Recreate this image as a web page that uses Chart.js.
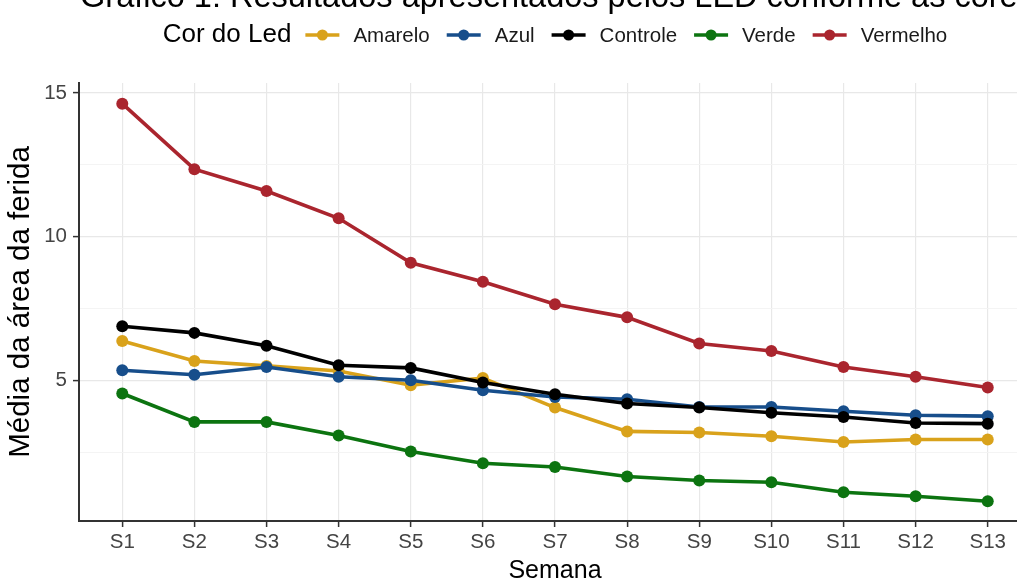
<!DOCTYPE html>
<html>
<head>
<meta charset="utf-8">
<script src="https://cdn.jsdelivr.net/npm/chart.js@4/dist/chart.umd.min.js"></script>
<style>
  html, body { margin: 0; padding: 0; background: #fff; overflow: hidden; }
  #wrap { position: absolute; left: 0; top: 0; width: 1045px; height: 582px; }
</style>
</head>
<body>
<div id="wrap"><canvas id="grafico" width="1045" height="582"></canvas></div>
<script>
// Dados (média da área da ferida por semana)
const semanas = ['S1','S2','S3','S4','S5','S6','S7','S8','S9','S10','S11','S12','S13'];
const cores = ['Amarelo','Azul','Controle','Verde','Vermelho'];

const amarelo  = [6.37, 5.67, 5.50, 5.32, 4.83, 5.08, 4.05, 3.22, 3.18, 3.05, 2.85, 2.94, 2.94];
const azul     = [5.35, 5.19, 5.46, 5.12, 5.00, 4.65, 4.42, 4.34, 4.07, 4.07, 3.92, 3.78, 3.75];
const controle = [6.88, 6.65, 6.20, 5.52, 5.43, 4.92, 4.51, 4.19, 4.05, 3.87, 3.72, 3.51, 3.49];
const verde    = [4.54, 3.55, 3.55, 3.08, 2.52, 2.11, 1.98, 1.65, 1.51, 1.45, 1.10, 0.96, 0.79];
const vermelho = [14.63, 12.35, 11.59, 10.64, 9.09, 8.43, 7.65, 7.19, 6.28, 6.02, 5.46, 5.12, 4.75];

const yTicks = [2.5, 5, 7.5, 10, 12.5, 15];

const series = [amarelo, azul, controle, verde, vermelho];
const corLinha = ['#D9A21B', '#174E8B', '#000000', '#0C7410', '#AA252E'];

const fonte = '"Liberation Sans", Arial, sans-serif';

// Título (cortado no topo, como na imagem original) e legenda desenhados no canvas
const tituloLegenda = {
  id: 'tituloLegenda',
  afterDraw(chart) {
    const ctx = chart.ctx;
    const area = chart.chartArea;
    const cx = (area.left + area.right) / 2;
    ctx.save();

    ctx.fillStyle = '#000';
    ctx.font = '32.5px ' + fonte;
    ctx.textAlign = 'center';
    ctx.textBaseline = 'alphabetic';
    ctx.fillText('Gráfico 1: Resultados apresentados pelos LED conforme as cores', cx + 2, 7);

    const titulo = 'Cor do Led';
    ctx.font = '26px ' + fonte;
    const wTitulo = ctx.measureText(titulo).width;
    ctx.font = '20.5px ' + fonte;
    const ws = cores.map(c => ctx.measureText(c).width);
    const keyW = 34, gapTitulo = 14, gapKey = 14, gapItem = 17;
    let total = wTitulo + gapTitulo;
    ws.forEach((w, i) => { total += keyW + gapKey + w + (i < ws.length - 1 ? gapItem : 0); });

    let x = cx - total / 2;
    const y = 35;
    ctx.textAlign = 'left';
    ctx.textBaseline = 'middle';
    ctx.fillStyle = '#000';
    ctx.font = '26px ' + fonte;
    ctx.fillText(titulo, x, y);
    x += wTitulo + gapTitulo;

    ctx.font = '20.5px ' + fonte;
    cores.forEach((c, i) => {
      ctx.strokeStyle = corLinha[i];
      ctx.lineWidth = 3.5;
      ctx.beginPath();
      ctx.moveTo(x, y);
      ctx.lineTo(x + keyW, y);
      ctx.stroke();
      ctx.fillStyle = corLinha[i];
      ctx.beginPath();
      ctx.arc(x + keyW / 2, y, 5.5, 0, Math.PI * 2);
      ctx.fill();
      x += keyW + gapKey;
      ctx.fillStyle = '#1a1a1a';
      ctx.fillText(c, x, y + 1);
      x += ws[i] + gapItem;
    });
    ctx.restore();
  }
};

const datasets = cores.map((c, i) => ({
  label: c,
  data: series[i].map((v, j) => ({ x: j + 1, y: v })),
  borderColor: corLinha[i],
  backgroundColor: corLinha[i],
  borderWidth: 3.6,
  pointRadius: 6,
  pointHoverRadius: 6,
  pointBorderWidth: 0,
  tension: 0,
  order: cores.length - i
}));

new Chart(document.getElementById('grafico'), {
  type: 'line',
  data: { datasets },
  plugins: [tituloLegenda],
  options: {
    responsive: false,
    animation: false,
    devicePixelRatio: 1,
    layout: { padding: { top: 83, left: 0, right: 14, bottom: 0 } },
    plugins: {
      legend: { display: false },
      title: { display: false },
      tooltip: { enabled: false }
    },
    scales: {
      x: {
        type: 'linear',
        min: 0.4,
        max: 13.6,
        afterBuildTicks: s => { s.ticks = semanas.map((_, i) => ({ value: i + 1 })); },
        afterFit: s => { s.height = 61; },
        ticks: {
          callback: v => semanas[v - 1] || '',
          font: { size: 20.5, family: fonte },
          color: '#444',
          padding: 3,
          maxRotation: 0,
          autoSkip: false
        },
        grid: {
          color: '#e8e8e8',
          lineWidth: 1.2,
          tickLength: 6,
          tickColor: '#333',
          tickWidth: 1.5
        },
        border: { display: true, color: '#333', width: 2 },
        title: {
          display: true,
          text: 'Semana',
          color: '#000',
          font: { size: 25, family: fonte, lineHeight: 1 },
          padding: { top: 0, bottom: -2 }
        }
      },
      y: {
        min: 0.1,
        max: 15.35,
        afterBuildTicks: s => { s.ticks = yTicks.map(v => ({ value: v })); },
        afterFit: s => { s.width = 79; },
        ticks: {
          callback: v => (v % 5 === 0 ? String(v) : ''),
          font: { size: 20.5, family: fonte },
          color: '#444',
          padding: 6
        },
        grid: {
          color: c => (c.tick && c.tick.value % 5 === 0 ? '#e8e8e8' : '#f3f3f3'),
          lineWidth: c => (c.tick && c.tick.value % 5 === 0 ? 1.2 : 0.9),
          tickLength: 6,
          tickColor: c => (c.tick && c.tick.value % 5 === 0 ? '#333' : 'rgba(0,0,0,0)'),
          tickWidth: 1.5
        },
        border: { display: true, color: '#333', width: 2 },
        title: {
          display: true,
          text: 'Média da área da ferida',
          color: '#000',
          font: { size: 29.5, family: fonte, lineHeight: 1.2 },
          padding: { top: 3, bottom: 0 }
        }
      }
    }
  }
});
</script>
</body>
</html>
